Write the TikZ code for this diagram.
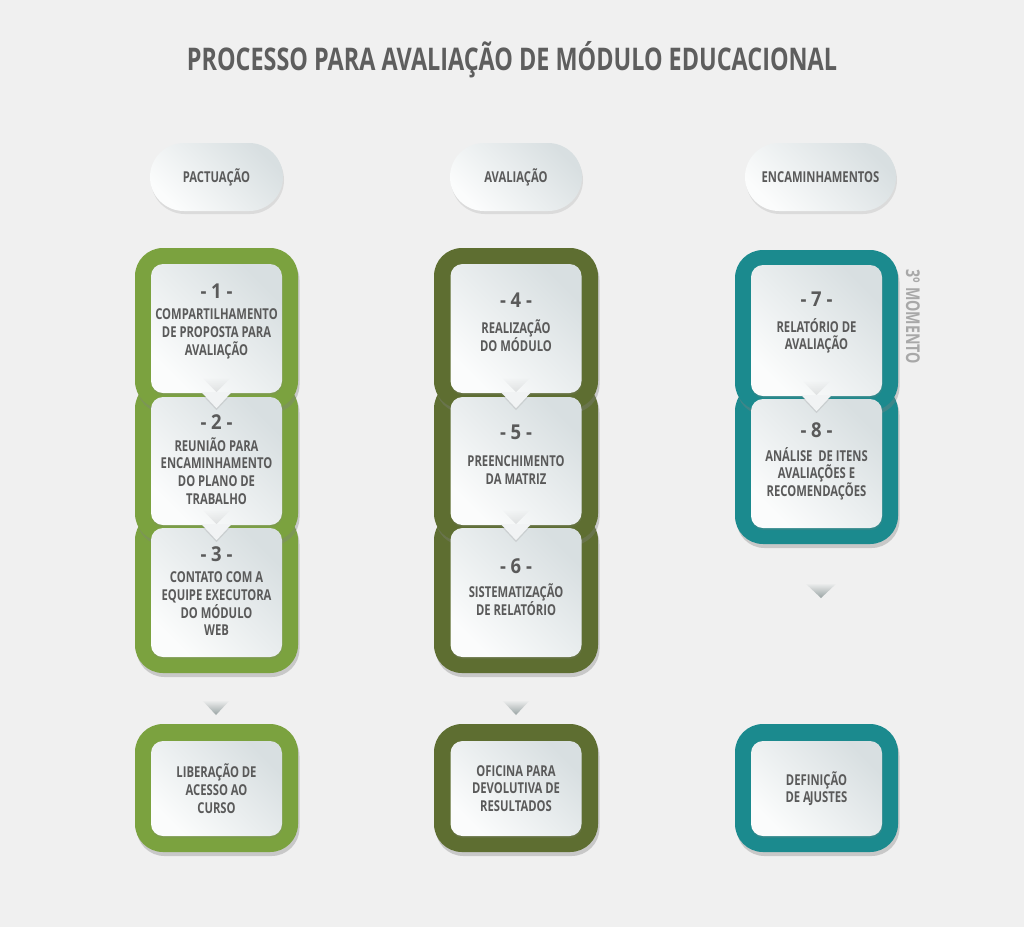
\documentclass[tikz,border=0pt]{standalone}
\usepackage{fontspec}
\setmainfont{Open Sans}[FakeStretch=0.75]
\newfontfamily\numfont{Open Sans}[FakeStretch=0.9]
\usetikzlibrary{shadows,fadings,calc}
\definecolor{bg}{HTML}{F0F0F0}
\definecolor{cgreen}{HTML}{7BA23F}
\definecolor{colive}{HTML}{5E6E31}
\definecolor{cteal}{HTML}{1B8A8E}
\definecolor{txt}{HTML}{5A5A5A}
\definecolor{ttl}{HTML}{5E5E5E}
\definecolor{side}{HTML}{A8A8A8}
\definecolor{boxlo}{HTML}{FBFCFC}
\definecolor{boxhi}{HTML}{D8DFE1}
\definecolor{ptrcol}{HTML}{F1F3F4}
\definecolor{chevbot}{HTML}{98A3A3}
\begin{document}
\begin{tikzpicture}[x=1pt,y=-1pt,
  frame/.style={rounded corners=28pt, minimum width=163pt, minimum height=161pt, inner sep=0pt,
    drop shadow={shadow xshift=1.5pt, shadow yshift=-4pt, opacity=0.35}},
  wbox/.style={rounded corners=12pt, minimum width=131pt, minimum height=129pt, inner sep=0pt,
    top color=boxhi, bottom color=boxlo, shading angle=-45,
    drop shadow={shadow xshift=0.5pt, shadow yshift=-2pt, opacity=0.2}},
  pill/.style={rounded corners=34pt, minimum height=68pt, inner sep=0pt,
    top color=boxhi, bottom color=boxlo, shading angle=-45, text=txt,
    font=\bfseries\fontsize{15}{17}\selectfont,
    drop shadow={shadow xshift=1pt, shadow yshift=-3pt, opacity=0.18}},
  num/.style={font=\numfont\bfseries\fontsize{20.5}{22}\selectfont, text=txt, inner sep=0pt},
  lbl/.style={font=\bfseries\fontsize{15}{17.7}\selectfont, text=txt, align=center, inner sep=0pt},
  ptr/.style={fill=ptrcol, drop shadow={shadow xshift=0pt, shadow yshift=-2pt, opacity=0.2}},
  ptrshade/.style={fill=black, opacity=0.09, path fading=north},
  chev/.style={top color=bg, bottom color=chevbot}
]
\fill[bg] (0,0) rectangle (1024,927);
\useasboundingbox (0,0) rectangle (1024,927);

% title
\node[font=\bfseries\fontsize{31.2}{34}\selectfont, text=ttl, inner sep=0pt] (title) at (512,60)
  {PROCESSO PARA AVALIAÇÃO DE MÓDULO EDUCACIONAL};

% pills
\node[pill, minimum width=133pt] (p1) at (216.5,177) {PACTUAÇÃO};
\node[pill, minimum width=132pt] (p2) at (516,177) {AVALIAÇÃO};
\node[pill, minimum width=151pt] (p3) at (820.5,177) {ENCAMINHAMENTOS};

% frames column 1
\node[frame, fill=cgreen] (f3) at (216.5,592.5) {};
\node[frame, fill=cgreen] (f2) at (216.5,461) {};
\node[frame, fill=cgreen] (f1) at (216.5,328.5) {};
% frames column 2
\node[frame, fill=colive, minimum width=164pt] (f6) at (516,592.5) {};
\node[frame, fill=colive, minimum width=164pt] (f5) at (516,461) {};
\node[frame, fill=colive, minimum width=164pt] (f4) at (516,328.5) {};
% frames column 3
\node[frame, fill=cteal] (f8) at (816.5,463.5) {};
\node[frame, fill=cteal] (f7) at (816.5,330.5) {};
% bottom frames
\node[frame, fill=cgreen, minimum height=128pt] (g1) at (216.5,788) {};
\node[frame, fill=colive, minimum height=128pt, minimum width=164pt] (g2) at (516,788) {};
\node[frame, fill=cteal, minimum height=128pt] (g3) at (816.5,788) {};

% white boxes column 1
\node[wbox] (b3) at (216.5,592.5) {};
\node[wbox, minimum height=128pt] (b2) at (216.5,461) {};
\fill[ptrshade] ($(b2.south)+(-15,-16)$) -- ($(b2.south)+(15,-16)$) -- ($(b2.south)+(0,-1)$) -- cycle;
\path[ptr] ($(b2.south)+(-15,-1)$) -- ($(b2.south)+(15,-1)$) -- ($(b2.south)+(0,15)$) -- cycle;
\node[wbox] (b1) at (216.5,328.5) {};
\fill[ptrshade] ($(b1.south)+(-15,-16)$) -- ($(b1.south)+(15,-16)$) -- ($(b1.south)+(0,-1)$) -- cycle;
\path[ptr] ($(b1.south)+(-15,-1)$) -- ($(b1.south)+(15,-1)$) -- ($(b1.south)+(0,15)$) -- cycle;
% white boxes column 2
\node[wbox] (b6) at (516,592.5) {};
\node[wbox, minimum height=128pt] (b5) at (516,461) {};
\fill[ptrshade] ($(b5.south)+(-15,-16)$) -- ($(b5.south)+(15,-16)$) -- ($(b5.south)+(0,-1)$) -- cycle;
\path[ptr] ($(b5.south)+(-15,-1)$) -- ($(b5.south)+(15,-1)$) -- ($(b5.south)+(0,15)$) -- cycle;
\node[wbox] (b4) at (516,328.5) {};
\fill[ptrshade] ($(b4.south)+(-15,-16)$) -- ($(b4.south)+(15,-16)$) -- ($(b4.south)+(0,-1)$) -- cycle;
\path[ptr] ($(b4.south)+(-15,-1)$) -- ($(b4.south)+(15,-1)$) -- ($(b4.south)+(0,15)$) -- cycle;
% white boxes column 3
\node[wbox] (b8) at (816.5,463.5) {};
\node[wbox, minimum height=131pt] (b7) at (816.5,330.5) {};
\fill[ptrshade] ($(b7.south)+(-15,-16)$) -- ($(b7.south)+(15,-16)$) -- ($(b7.south)+(0,-1)$) -- cycle;
\path[ptr] ($(b7.south)+(-15,-1)$) -- ($(b7.south)+(15,-1)$) -- ($(b7.south)+(0,15)$) -- cycle;
% bottom white boxes
\node[wbox, minimum height=95pt] (w1) at (216.5,788.5) {};
\node[wbox, minimum height=95pt] (w2) at (516,788.5) {};
\node[wbox, minimum height=95pt] (w3) at (816.5,788.5) {};

% texts column 1
\node[num] (n1) at ($(b1.north)+(0,27)$) {- 1 -};
\node[lbl] (t1) at ($(b1.north)+(0,70)$) {COMPARTILHAMENTO\\DE PROPOSTA PARA\\AVALIAÇÃO};
\node[num] (n2) at ($(b2.north)+(0,25)$) {- 2 -};
\node[lbl] (t2) at ($(b2.north)+(0,74)$) {REUNIÃO PARA\\ENCAMINHAMENTO\\DO PLANO DE\\TRABALHO};
\node[num] (n3) at ($(b3.north)+(0,26)$) {- 3 -};
\node[lbl] (t3) at ($(b3.north)+(0,76)$) {CONTATO COM A\\EQUIPE EXECUTORA\\DO MÓDULO\\WEB};
% texts column 2
\node[num] (n4) at ($(b4.north)+(0,36)$) {- 4 -};
\node[lbl] (t4) at ($(b4.north)+(0,72)$) {REALIZAÇÃO\\DO MÓDULO};
\node[num] (n5) at ($(b5.north)+(0,35)$) {- 5 -};
\node[lbl] (t5) at ($(b5.north)+(0,73)$) {PREENCHIMENTO\\DA MATRIZ};
\node[num] (n6) at ($(b6.north)+(0,38)$) {- 6 -};
\node[lbl] (t6) at ($(b6.north)+(0,72)$) {SISTEMATIZAÇÃO\\DE RELATÓRIO};
% texts column 3
\node[num] (n7) at ($(b7.north)+(0,34)$) {- 7 -};
\node[lbl] (t7) at ($(b7.north)+(0,71)$) {RELATÓRIO DE\\AVALIAÇÃO};
\node[num] (n8) at ($(b8.north)+(0,31)$) {- 8 -};
\node[lbl] (t8) at ($(b8.north)+(0,75)$) {ANÁLISE\ \ DE ITENS\\AVALIAÇÕES E\\RECOMENDAÇÕES};
% bottom texts
\node[lbl] (u1) at (w1.center) {LIBERAÇÃO DE\\ACESSO AO\\CURSO};
\node[lbl] (u2) at (w2.center) {OFICINA PARA\\DEVOLUTIVA DE\\RESULTADOS};
\node[lbl] (u3) at (w3.center) {DEFINIÇÃO\\DE A\kern-1pt JUSTES};

% side label
\node[font=\bfseries\fontsize{19}{22}\selectfont, text=side, rotate=-90, inner sep=0pt] (side) at (913,317) {3º MOMENTO};

% chevrons
\coordinate (c1) at (216,700);
\coordinate (c2) at (516,700);
\coordinate (c3) at (821,583);
\path[chev] ($(c1)+(-14,0)$) -- ($(c1)+(14,0)$) -- ($(c1)+(0,15)$) -- cycle;
\path[chev] ($(c2)+(-14,0)$) -- ($(c2)+(14,0)$) -- ($(c2)+(0,15)$) -- cycle;
\path[chev] ($(c3)+(-16,0)$) -- ($(c3)+(16,0)$) -- ($(c3)+(0,15)$) -- cycle;
\end{tikzpicture}
\end{document}
